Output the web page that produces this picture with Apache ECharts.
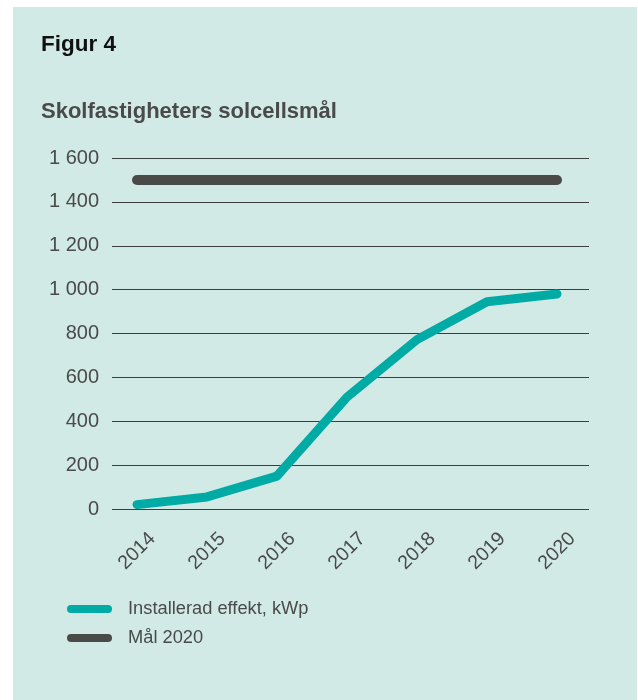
<!DOCTYPE html>
<html>
<head>
    <meta charset="utf-8">
    <title>Figur 4</title>
    <script src="https://cdn.jsdelivr.net/npm/echarts@6/dist/echarts.min.js"></script>
    <style>
        html, body { margin: 0; padding: 0; background: #fff; }
    </style>
</head>
<body>
    <div id="chart" style="width: 638px; height: 700px;"></div>
    <script>
        // data
        const years = ['2014', '2015', '2016', '2017', '2018', '2019', '2020'];
        const installerad = [20, 55, 150, 510, 772, 945, 980];
        const mal2020 = [1500, 1500, 1500, 1500, 1500, 1500, 1500];
        const yTicks = { min: 0, max: 1600, interval: 200 };

        const teal = '#00aaa5';
        const dark = '#4a4b48';
        const txt = '#4a4a4a';
        const font = '"Liberation Sans", Arial, sans-serif';

        // rounded-end bar for the legend
        const capIcon = 'path://M4,0 H41 A4,4 0 0 1 41,8 H4 A4,4 0 0 1 4,0 Z';

        const option = {
            backgroundColor: '#ffffff',
            animation: false,
            graphic: [
                {
                    type: 'rect',
                    z: -10,
                    shape: { x: 13, y: 7, width: 624, height: 700 },
                    style: { fill: '#d1eae6' }
                }
            ],
            title: [
                {
                    text: 'Figur 4',
                    left: 36, top: 28,
                    textStyle: { fontFamily: font, fontWeight: 'bold', fontSize: 22.5, color: '#111' }
                },
                {
                    text: 'Skolfastigheters solcellsmål',
                    left: 36, top: 96,
                    textStyle: { fontFamily: font, fontWeight: 'bold', fontSize: 22, color: txt }
                }
            ],
            legend: {
                orient: 'vertical',
                left: 62, top: 595,
                itemWidth: 45, itemHeight: 9,
                itemGap: 11,
                icon: capIcon,
                textStyle: { fontFamily: font, fontSize: 18.3, color: txt, padding: [0, 0, 0, 11] },
                data: ['Installerad effekt, kWp', 'Mål 2020']
            },
            grid: [
                // wide grid: gridlines + y labels
                { left: 112, right: 49, top: 158, bottom: 191 },
                // plot grid for the lines
                { left: 137, right: 81, top: 158, bottom: 191 }
            ],
            xAxis: [
                { gridIndex: 0, type: 'value', show: false, min: 0, max: 1 },
                {
                    gridIndex: 1,
                    type: 'category',
                    boundaryGap: false,
                    data: years,
                    axisLine: { show: false },
                    axisTick: { show: false },
                    axisLabel: {
                        rotate: 45,
                        align: 'center',
                        verticalAlign: 'middle',
                        margin: 42,
                        fontFamily: font,
                        fontSize: 19.5,
                        color: txt
                    }
                }
            ],
            yAxis: [
                {
                    gridIndex: 0,
                    type: 'value',
                    min: yTicks.min, max: yTicks.max, interval: yTicks.interval,
                    axisLine: { show: false },
                    axisTick: { show: false },
                    splitLine: { lineStyle: { color: '#3d3d3d', width: 1 } },
                    axisLabel: {
                        margin: 13,
                        fontFamily: font,
                        fontSize: 20,
                        color: txt,
                        formatter: v => String(v).replace(/\B(?=(\d{3})+(?!\d))/g, ' ')
                    }
                },
                {
                    gridIndex: 1,
                    type: 'value',
                    min: yTicks.min, max: yTicks.max,
                    show: false
                }
            ],
            series: [
                {
                    name: 'Installerad effekt, kWp',
                    type: 'line',
                    xAxisIndex: 1, yAxisIndex: 1,
                    data: installerad,
                    showSymbol: false,
                    color: teal,
                    lineStyle: { width: 9, color: teal, cap: 'round', join: 'round' },
                    z: 3
                },
                {
                    name: 'Mål 2020',
                    type: 'line',
                    xAxisIndex: 1, yAxisIndex: 1,
                    data: mal2020,
                    showSymbol: false,
                    color: dark,
                    lineStyle: { width: 10, color: dark, cap: 'round', join: 'round' },
                    z: 2
                }
            ]
        };

        const chart = echarts.init(document.getElementById('chart'));
        chart.setOption(option);
    </script>
</body>
</html>
